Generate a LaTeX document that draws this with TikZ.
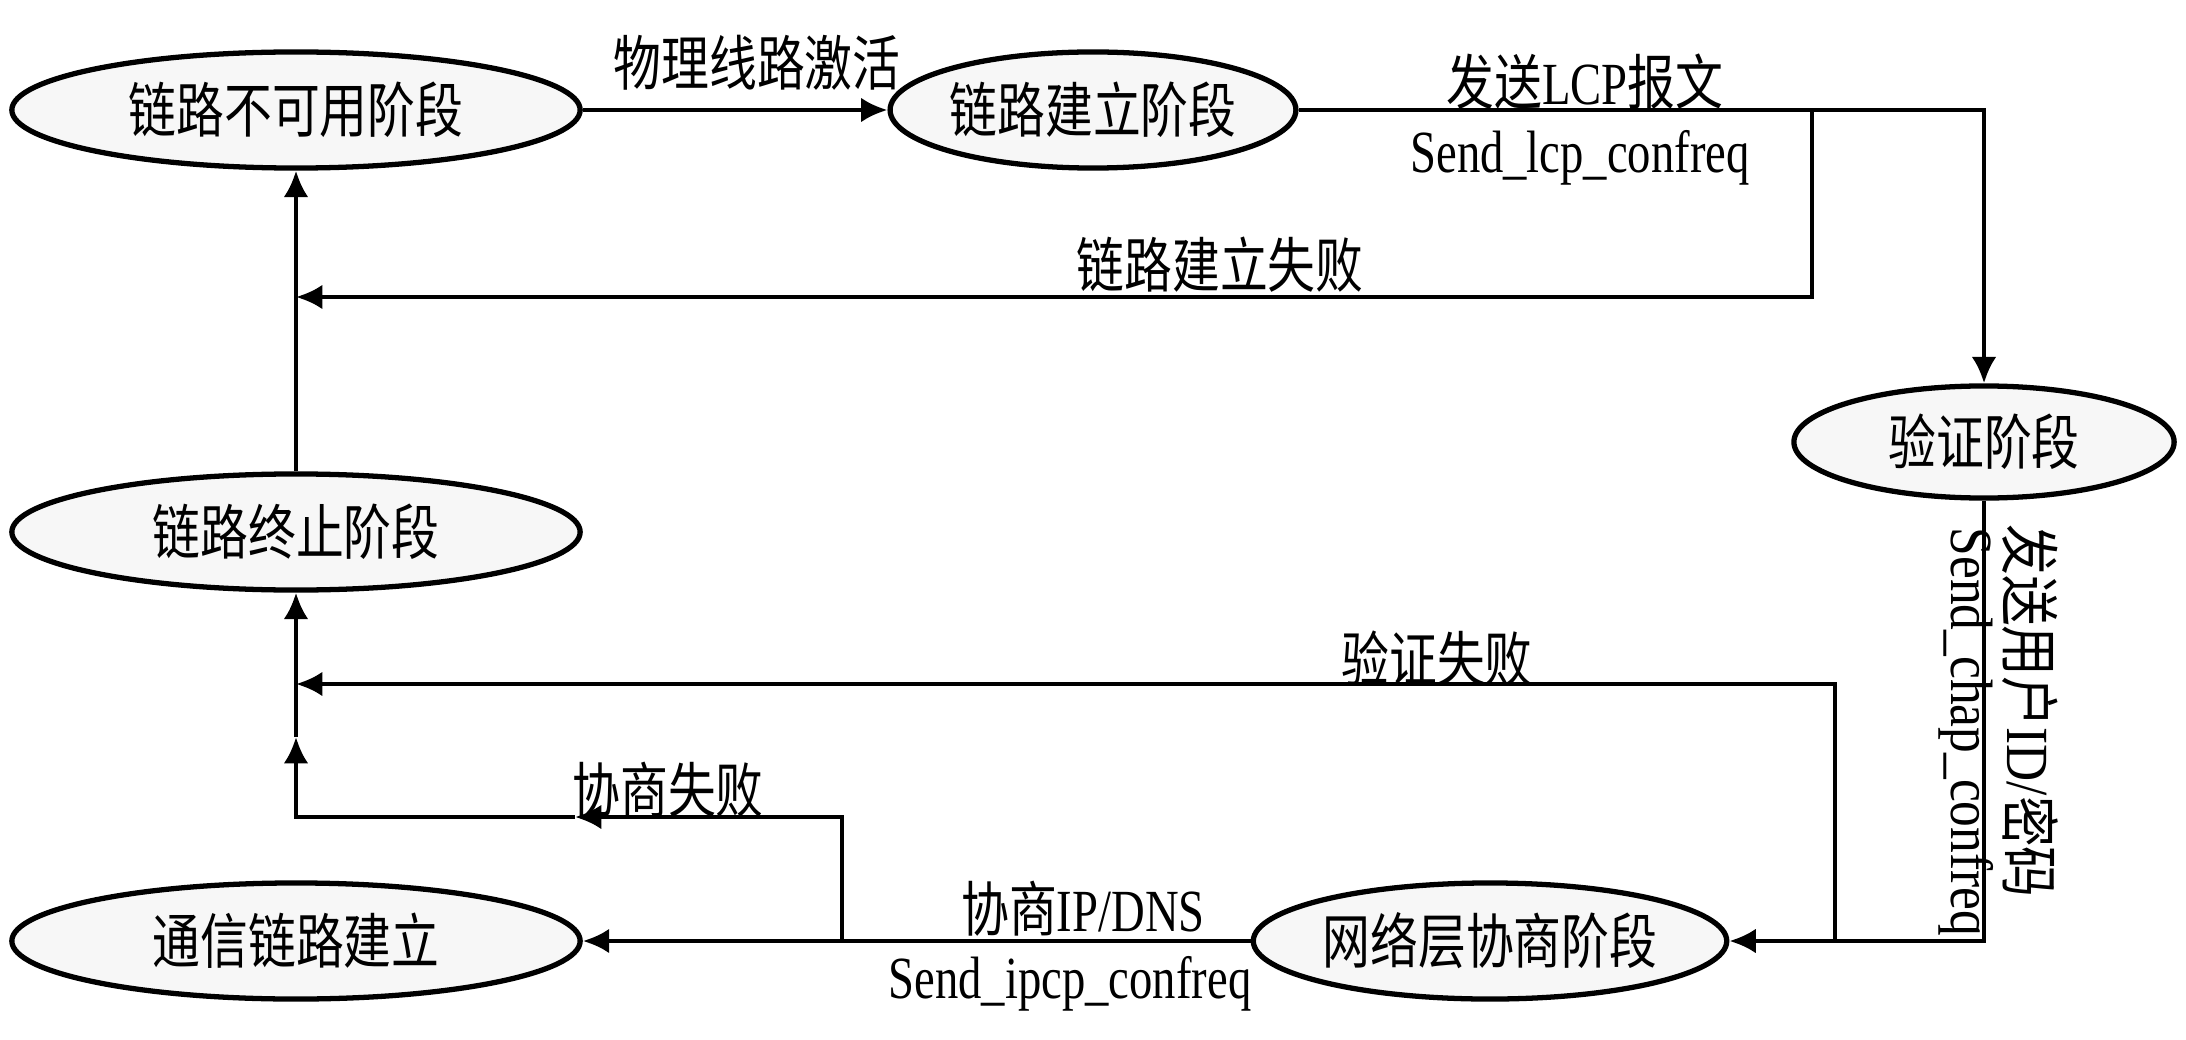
\documentclass[tikz,border=0pt]{standalone}
\usepackage{fontspec}
\setmainfont{Liberation Serif}[FakeStretch=0.78]
\newfontfamily\zhfont{Noto Sans CJK SC}[FakeStretch=0.8]
\newfontfamily\zhfontv{Noto Sans CJK SC}[FakeStretch=0.85]
\newfontfamily\latv{Liberation Serif}[FakeStretch=0.86]
\usetikzlibrary{shapes.geometric,arrows.meta}
\begin{document}
\begin{tikzpicture}[x=0.01cm,y=-0.01cm,
  phase/.style={ellipse, draw, line width=1.5pt, fill=gray!6, inner sep=0pt,
    font=\zhfont\fontsize{17}{20}\selectfont},
  lbl/.style={inner sep=0pt, font=\fontsize{17}{20}\selectfont},
  arr/.style={line width=1.2pt, -{Latex[length=7.5pt,width=7pt]}}]
\useasboundingbox (0,0) rectangle (2186,1040);
% phases
\node[phase, minimum width=5.68cm, minimum height=1.16cm] (A) at (296,110) {链路不可用阶段};
\node[phase, minimum width=4.02cm, minimum height=1.16cm] (B) at (1093,110) {链路建立阶段};
\node[phase, minimum width=3.80cm, minimum height=1.12cm] (V) at (1984,442) {验证阶段};
\node[phase, minimum width=5.68cm, minimum height=1.16cm] (T) at (296,532) {链路终止阶段};
\node[phase, minimum width=5.68cm, minimum height=1.16cm] (C) at (296,941) {通信链路建立};
\node[phase, minimum width=4.50cm, minimum height=1.16cm] (N) at (1490,941) {网络层协商阶段};
% junctions
\coordinate (b1) at (1812,110);
\coordinate (j1) at (296,297);
\coordinate (b2) at (1835,941);
\coordinate (j2) at (296,684);
\coordinate (b3) at (842,941);
\coordinate (m3) at (575,817);
\coordinate (c3) at (296,817);
\coordinate (j3) at (296,737);
% connectors
\draw[arr] (A.east) -- (B.west);
\draw[arr] (B.east) -| (V.north);
\draw[arr] (b1) |- (j1);
\draw[arr] (T.north) -- (A.south);
\draw[arr] (V.south) |- (N.east);
\draw[arr] (b2) |- (j2);
\draw[arr] (N.west) -- (C.east);
\draw[arr] (b3) |- (m3);
\draw[arr] (m3) -- (c3) -- (j3);
\draw[arr] (j3) -- (T.south);
% labels
\node[lbl] (l1) at (757,63) {{\zhfont 物理线路激活}};
\node[lbl] (l2) at (1585,82) {{\zhfont 发送}LCP{\zhfont 报文}};
\node[lbl] (l3) at (1580,158) {Send\_lcp\_confreq};
\node[lbl] (l4) at (1220,265) {{\zhfont 链路建立失败}};
\node[lbl] (l5) at (1437,659) {{\zhfont 验证失败}};
\node[lbl] (l6) at (668,790) {{\zhfont 协商失败}};
\node[lbl] (l7) at (1083,909) {{\zhfont 协商}IP/DNS};
\node[lbl] (l8) at (1070,984) {Send\_ipcp\_confreq};
\node[lbl, rotate=-90] (l9) at (1966,732) {\latv Send\_chap\_confreq};
\node[lbl, rotate=-90] (l10) at (2030,711) {{\zhfontv 发送用户}{\latv ID/}{\zhfontv 密码}};
\end{tikzpicture}
\end{document}
